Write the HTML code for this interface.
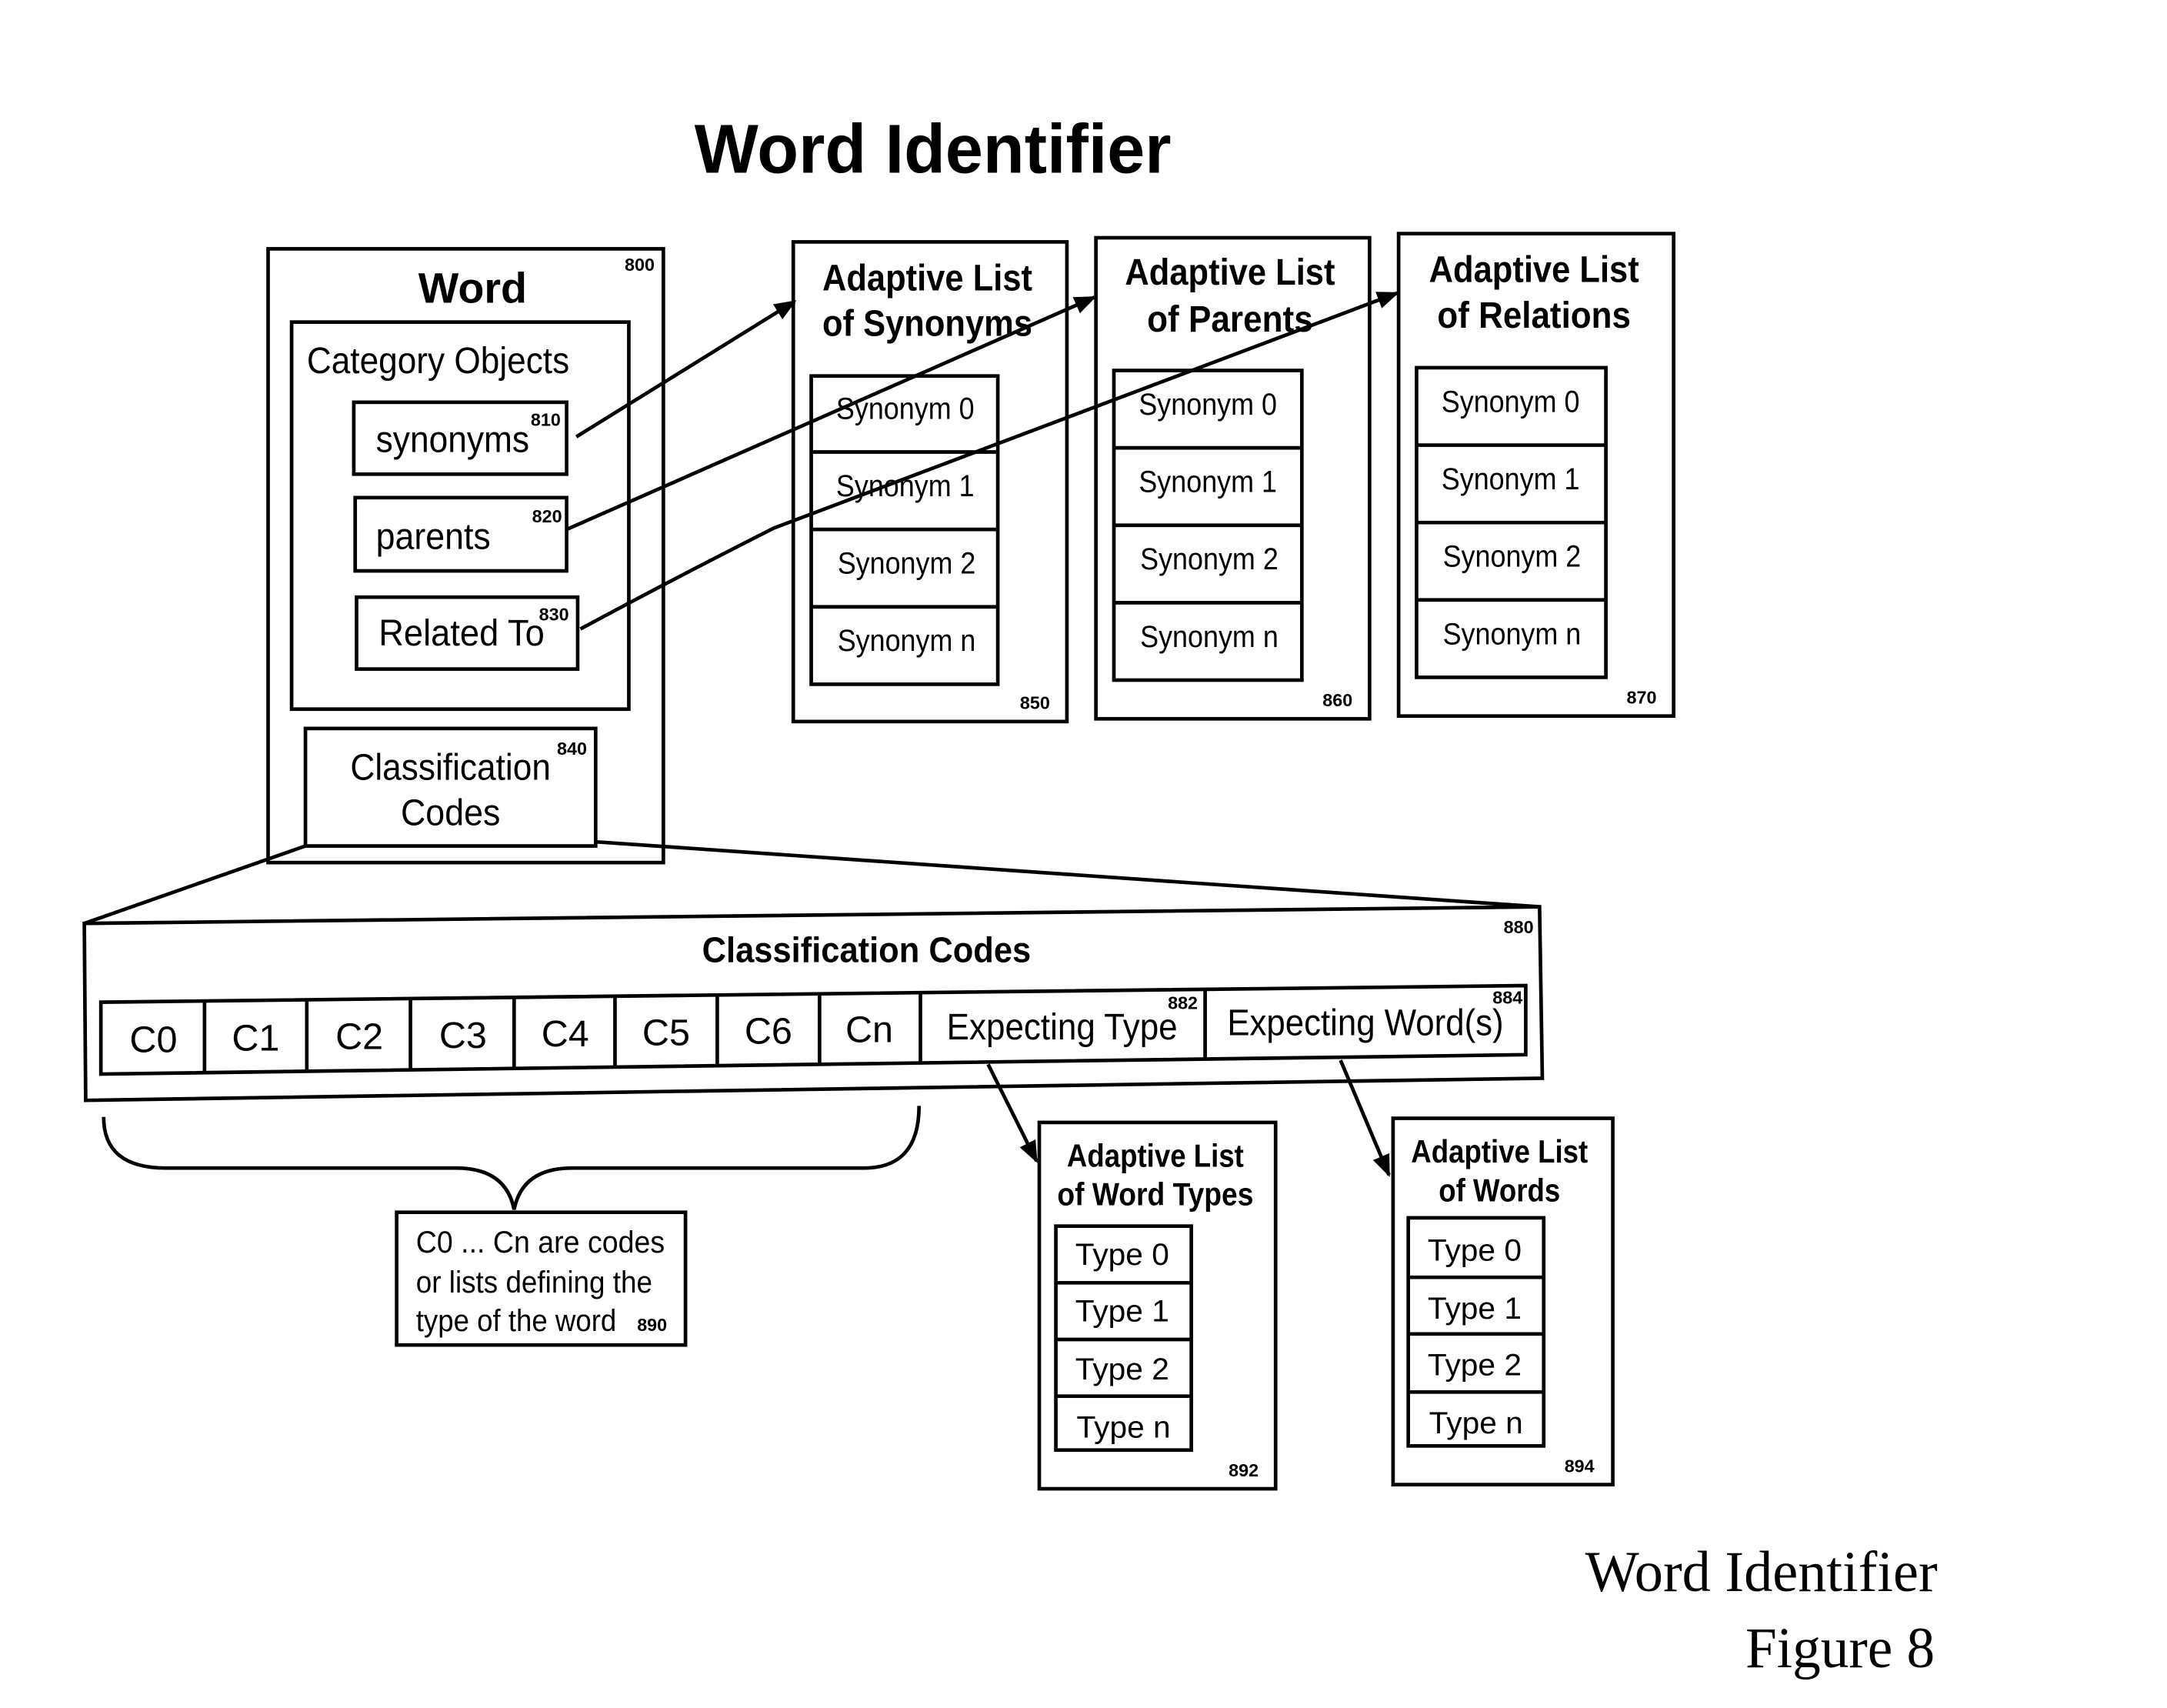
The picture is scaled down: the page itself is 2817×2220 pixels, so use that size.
<!DOCTYPE html>
<html><head><meta charset="utf-8">
<style>
html,body{margin:0;padding:0;background:#fff;}
svg{display:block;}
text{font-family:"Liberation Sans",sans-serif;fill:#000;}
.b{font-weight:bold;}
.s{font-size:13px;font-weight:bold;}
</style></head>
<body>
<svg width="2817" height="2220" viewBox="0 0 1568 1235.6" preserveAspectRatio="none" xmlns="http://www.w3.org/2000/svg">
<defs>
<marker id="ah2" viewBox="0 0 10 10" refX="9" refY="5" markerWidth="16" markerHeight="16" orient="auto" markerUnits="userSpaceOnUse">
<path d="M0,1 L10,5 L0,9 z" fill="#000"/>
</marker>
</defs>
<g fill="none" stroke="#000" stroke-width="2.6">
<rect x="194" y="180" width="286" height="444"/>
<rect x="211" y="233" width="244" height="280"/>
<rect x="256" y="291" width="154" height="52"/>
<rect x="257" y="360" width="153" height="53"/>
<rect x="258" y="432" width="160" height="52"/>
<rect x="221" y="527" width="210" height="85"/>
<rect x="574" y="175" width="198" height="347"/>
<rect x="587" y="272" width="135" height="223"/>
<path d="M587,327 H722 M587,383 H722 M587,439 H722"/>
<rect x="793" y="172" width="198" height="348"/>
<rect x="806" y="268" width="136" height="224"/>
<path d="M806,324 H942 M806,380 H942 M806,436 H942"/>
<rect x="1012" y="169" width="199" height="349"/>
<rect x="1025" y="266" width="137" height="224"/>
<path d="M1025,322 H1162 M1025,378 H1162 M1025,434 H1162"/>
<path d="M417,316 L575,218" marker-end="url(#ah2)"/>
<path d="M410,383 L792,215" marker-end="url(#ah2)"/>
<path d="M420,455 Q485,420 560,382 L1011,212" marker-end="url(#ah2)"/>
<path d="M221,612 L61,668"/>
<path d="M431,609 L1114,656"/>
<path d="M61,668 L1114,656 L1116,780 L62,796 Z"/>
<path d="M73,725 L1104,713 L1104,763 L73,777 Z"/>
<path d="M148,724 V776 M222,723 V775 M297,723 V774 M372,722 V773 M445,721 V772 M519,720 V771 M593,719 V770 M666,719 V769 M872,716 V766"/>
<path d="M75,808 Q75,845 120,845 L330,845 Q366,845 372,875 Q378,845 414,845 L625,845 Q665,845 665,800"/>
<rect x="287" y="877" width="209" height="96"/>
<path d="M715,770 L750,840" marker-end="url(#ah2)"/>
<path d="M970,767 L1005,850" marker-end="url(#ah2)"/>
<rect x="752" y="812" width="171" height="265"/>
<rect x="764" y="887" width="98" height="162"/>
<path d="M764,928 H862 M764,969 H862 M764,1010 H862"/>
<rect x="1008" y="809" width="159" height="265"/>
<rect x="1019" y="881" width="98" height="165"/>
<path d="M1019,924 H1117 M1019,965 H1117 M1019,1007 H1117"/>
</g>

<text x="675" y="125" class="b" font-size="50" text-anchor="middle" textLength="345" lengthAdjust="spacingAndGlyphs">Word Identifier</text>

<text x="342" y="219" class="b" font-size="31" text-anchor="middle">Word</text>
<text x="452" y="196" class="s">800</text>
<text x="222" y="270" font-size="27" textLength="190" lengthAdjust="spacingAndGlyphs">Category Objects</text>
<text x="272" y="327" font-size="27" textLength="111" lengthAdjust="spacingAndGlyphs">synonyms</text>
<text x="384" y="308" class="s">810</text>
<text x="272" y="397" font-size="27" textLength="83" lengthAdjust="spacingAndGlyphs">parents</text>
<text x="385" y="378" class="s">820</text>
<text x="274" y="467" font-size="27" textLength="120" lengthAdjust="spacingAndGlyphs">Related To</text>
<text x="390" y="449" class="s">830</text>
<text x="326" y="564" font-size="27" text-anchor="middle" textLength="145" lengthAdjust="spacingAndGlyphs">Classification</text>
<text x="326" y="597" font-size="27" text-anchor="middle" textLength="72" lengthAdjust="spacingAndGlyphs">Codes</text>
<text x="403" y="546" class="s">840</text>

<g class="b" font-size="27" text-anchor="middle">
<text x="671" y="210" textLength="152" lengthAdjust="spacingAndGlyphs">Adaptive List</text>
<text x="671" y="243" textLength="152" lengthAdjust="spacingAndGlyphs">of Synonyms</text>
<text x="890" y="206" textLength="152" lengthAdjust="spacingAndGlyphs">Adaptive List</text>
<text x="890" y="240" textLength="120" lengthAdjust="spacingAndGlyphs">of Parents</text>
<text x="1110" y="204" textLength="152" lengthAdjust="spacingAndGlyphs">Adaptive List</text>
<text x="1110" y="237" textLength="140" lengthAdjust="spacingAndGlyphs">of Relations</text>
</g>
<g font-size="22" text-anchor="middle">
<text x="655" y="303" textLength="100" lengthAdjust="spacingAndGlyphs">Synonym 0</text>
<text x="655" y="359" textLength="100" lengthAdjust="spacingAndGlyphs">Synonym 1</text>
<text x="656" y="415" textLength="100" lengthAdjust="spacingAndGlyphs">Synonym 2</text>
<text x="656" y="471" textLength="100" lengthAdjust="spacingAndGlyphs">Synonym n</text>
<text x="874" y="300" textLength="100" lengthAdjust="spacingAndGlyphs">Synonym 0</text>
<text x="874" y="356" textLength="100" lengthAdjust="spacingAndGlyphs">Synonym 1</text>
<text x="875" y="412" textLength="100" lengthAdjust="spacingAndGlyphs">Synonym 2</text>
<text x="875" y="468" textLength="100" lengthAdjust="spacingAndGlyphs">Synonym n</text>
<text x="1093" y="298" textLength="100" lengthAdjust="spacingAndGlyphs">Synonym 0</text>
<text x="1093" y="354" textLength="100" lengthAdjust="spacingAndGlyphs">Synonym 1</text>
<text x="1094" y="410" textLength="100" lengthAdjust="spacingAndGlyphs">Synonym 2</text>
<text x="1094" y="466" textLength="100" lengthAdjust="spacingAndGlyphs">Synonym n</text>
</g>
<text x="738" y="513" class="s">850</text>
<text x="957" y="511" class="s">860</text>
<text x="1177" y="509" class="s">870</text>

<text x="627" y="696" class="b" font-size="26" text-anchor="middle" textLength="238" lengthAdjust="spacingAndGlyphs">Classification Codes</text>
<text x="1088" y="675" class="s">880</text>
<g font-size="27" text-anchor="middle">
<text x="111" y="761">C0</text>
<text x="185" y="760">C1</text>
<text x="260" y="759">C2</text>
<text x="335" y="758">C3</text>
<text x="409" y="757">C4</text>
<text x="482" y="756">C5</text>
<text x="556" y="755">C6</text>
<text x="629" y="754">Cn</text>
</g>
<text x="685" y="752" font-size="27" textLength="167" lengthAdjust="spacingAndGlyphs">Expecting Type</text>
<text x="845" y="730" class="s">882</text>
<text x="888" y="749" font-size="27" textLength="200" lengthAdjust="spacingAndGlyphs">Expecting Word(s)</text>
<text x="1080" y="726" class="s">884</text>

<g font-size="22">
<text x="301" y="906" textLength="180" lengthAdjust="spacingAndGlyphs">C0 ... Cn are codes</text>
<text x="301" y="935" textLength="171" lengthAdjust="spacingAndGlyphs">or lists defining the</text>
<text x="301" y="963" textLength="145" lengthAdjust="spacingAndGlyphs">type of the word</text>
</g>
<text x="461" y="963" class="s">890</text>

<g class="b" font-size="23" text-anchor="middle">
<text x="836" y="844" textLength="128" lengthAdjust="spacingAndGlyphs">Adaptive List</text>
<text x="836" y="872" textLength="142" lengthAdjust="spacingAndGlyphs">of Word Types</text>
<text x="1085" y="841" textLength="128" lengthAdjust="spacingAndGlyphs">Adaptive List</text>
<text x="1085" y="869" textLength="88" lengthAdjust="spacingAndGlyphs">of Words</text>
</g>
<g font-size="22">
<text x="778" y="915" textLength="68" lengthAdjust="spacingAndGlyphs">Type  0</text>
<text x="778" y="956" textLength="68" lengthAdjust="spacingAndGlyphs">Type  1</text>
<text x="778" y="998" textLength="68" lengthAdjust="spacingAndGlyphs">Type  2</text>
<text x="779" y="1040" textLength="68" lengthAdjust="spacingAndGlyphs">Type  n</text>
<text x="1033" y="912" textLength="68" lengthAdjust="spacingAndGlyphs">Type  0</text>
<text x="1033" y="954" textLength="68" lengthAdjust="spacingAndGlyphs">Type  1</text>
<text x="1033" y="995" textLength="68" lengthAdjust="spacingAndGlyphs">Type  2</text>
<text x="1034" y="1037" textLength="68" lengthAdjust="spacingAndGlyphs">Type  n</text>
</g>
<text x="889" y="1068" class="s">892</text>
<text x="1132" y="1065" class="s">894</text>

<text x="1402" y="1151" font-size="42" text-anchor="end" style="font-family:'Liberation Serif',serif" textLength="255" lengthAdjust="spacingAndGlyphs">Word Identifier</text>
<text x="1400" y="1206" font-size="42" text-anchor="end" style="font-family:'Liberation Serif',serif" textLength="137" lengthAdjust="spacingAndGlyphs">Figure 8</text>
</svg>
</body></html>
